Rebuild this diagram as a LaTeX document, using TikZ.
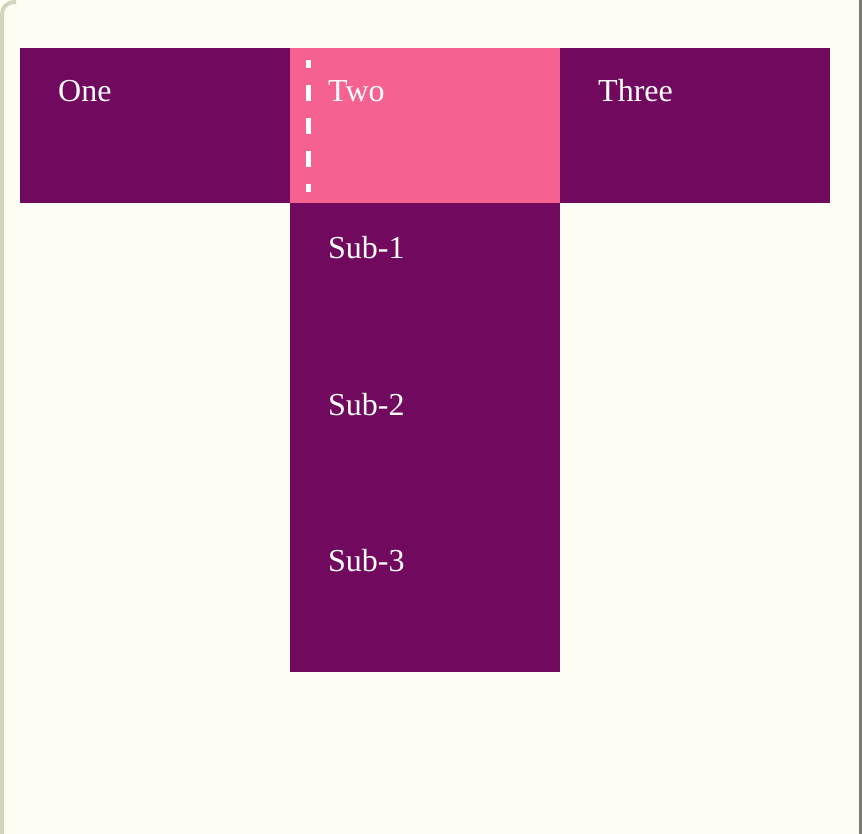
\documentclass[tikz,border=0pt]{standalone}
\usepackage{fontspec}
\setmainfont{Liberation Serif}
\definecolor{bgc}{HTML}{FDFDF3}
\definecolor{menup}{HTML}{710A5E}
\definecolor{menupink}{HTML}{F5628F}
\definecolor{leftb}{HTML}{D4D4BE}
\definecolor{rightb}{HTML}{7A7A72}
\tikzset{
  item/.style={draw=none, fill=menup, minimum width=270pt, minimum height=155pt, inner sep=0pt, outer sep=0pt, anchor=north west},
  active/.style={item, fill=menupink},
  lbl/.style={text=white, font=\fontsize{32}{38}\selectfont, inner sep=0pt, anchor=base west},
}
\begin{document}
\begin{tikzpicture}[x=1pt,y=-1pt]
\useasboundingbox (0,0) rectangle (862,834);
\fill[bgc] (0,0) rectangle (862,834);
\draw[leftb, line width=4pt] (2,834) -- (2,14) arc[start angle=180, end angle=270, radius=12] -- (16,2);
\draw[rightb, line width=3pt] (860.5,0) -- (860.5,834);
% top menu
\node[item] (one) at (20,48) {};
\node[active] (two) at (290,48) {};
\node[item] (three) at (560,48) {};
% submenu
\node[item, minimum height=156pt] (sub1) at (290,203) {};
\node[item, minimum height=156pt] (sub2) at (290,358) {};
\node[item, minimum height=158pt] (sub3) at (290,514) {};
% focus outline
\draw[white, line width=5pt, dash pattern=on 16pt off 17pt, dash phase=8pt]
  ([xshift=18pt, yshift=-12pt]two.north west) -- ([xshift=18pt, yshift=11pt]two.south west);
% labels
\node[lbl] (tone) at (58,102) {One};
\node[lbl] (ttwo) at (328,102) {Two};
\node[lbl] (tthree) at (598,102) {Three};
\node[lbl] (ts1) at (328,259) {Sub-1};
\node[lbl] (ts2) at (328,415) {Sub-2};
\node[lbl] (ts3) at (328,571) {Sub-3};
\end{tikzpicture}
\end{document}
